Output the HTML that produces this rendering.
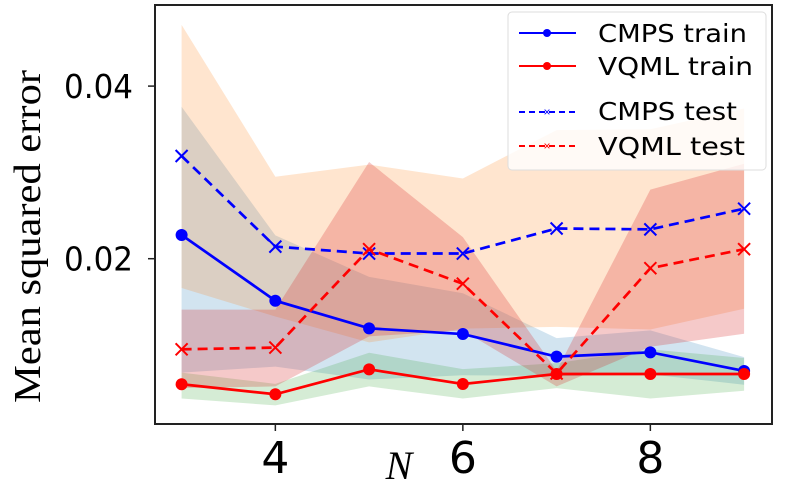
<!DOCTYPE html>
<html><head><meta charset="utf-8"><style>
body{margin:0;background:#fff;}
svg{display:block;}
</style></head><body>
<svg id="chart" width="789" height="490" viewBox="0 0 789 490" xmlns="http://www.w3.org/2000/svg">
<g id="bands"></g><g id="lines"></g>
<rect x="155" y="5" width="617" height="419" fill="none" stroke="#222" stroke-width="2"/>
<g id="axes"></g>
<text transform="translate(40,403) rotate(-90)" font-family="Liberation Serif, serif" font-size="38" textLength="333" lengthAdjust="spacingAndGlyphs">Mean squared error</text>
<text x="399" y="479" text-anchor="middle" font-family="Liberation Serif, serif" font-style="italic" font-size="40">N</text>
<g>
<rect x="508" y="12" width="258" height="158" rx="4" fill="#fff" fill-opacity="0.8" stroke="#ddd"/>
<line x1="519" y1="33" x2="576" y2="33" stroke="#0000ff" stroke-width="2"/><circle cx="547" cy="33" r="4" fill="#0000ff"/>
<text x="598" y="42" font-family="DejaVu Sans, sans-serif" font-size="25" textLength="149" lengthAdjust="spacingAndGlyphs">CMPS train</text>
<line x1="519" y1="66" x2="576" y2="66" stroke="#ff0000" stroke-width="2"/><circle cx="547" cy="66" r="4" fill="#ff0000"/>
<text x="598" y="75" font-family="DejaVu Sans, sans-serif" font-size="25" textLength="155" lengthAdjust="spacingAndGlyphs">VQML train</text>
<line x1="519" y1="112" x2="576" y2="112" stroke="#0000ff" stroke-width="2" stroke-dasharray="6,4"/><text x="547" y="116" text-anchor="middle" fill="#0000ff" font-size="12" font-family="Liberation Sans, sans-serif">×</text>
<text x="598" y="120" font-family="DejaVu Sans, sans-serif" font-size="25" textLength="139" lengthAdjust="spacingAndGlyphs">CMPS test</text>
<line x1="519" y1="146" x2="576" y2="146" stroke="#ff0000" stroke-width="2" stroke-dasharray="6,4"/><text x="547" y="150" text-anchor="middle" fill="#ff0000" font-size="12" font-family="Liberation Sans, sans-serif">×</text>
<text x="598" y="155" font-family="DejaVu Sans, sans-serif" font-size="25" textLength="147" lengthAdjust="spacingAndGlyphs">VQML test</text>
</g>
</svg>
<script>
const nValues=[3,4,5,6,7,8,9];
const cmpsTrain=[0.02275,0.01513,0.01193,0.01127,0.00865,0.00915,0.00699];
const vqmlTrain=[0.00545,0.00429,0.00718,0.00548,0.00664,0.00664,0.00664];
const cmpsTest=[0.0319,0.0214,0.0206,0.0206,0.0235,0.0234,0.0258];
const vqmlTest=[0.0095,0.0097,0.0211,0.0171,0.0067,0.0189,0.0211];
const cmpsTrainLo=[0.0068,0.0075,0.0060,0.0065,0.0064,0.0066,0.0054];
const cmpsTrainHi=[0.0376,0.0227,0.0179,0.0160,0.0108,0.0117,0.0086];
const vqmlTrainLo=[0.0038,0.0030,0.0052,0.0038,0.0050,0.0038,0.0047];
const vqmlTrainHi=[0.0068,0.0055,0.0091,0.0072,0.0079,0.0095,0.0085];
const cmpsTestLo=[0.0166,0.0133,0.0103,0.0119,0.0121,0.0118,0.0142];
const cmpsTestHi=[0.0471,0.0295,0.0309,0.0293,0.0349,0.0350,0.0374];
const vqmlTestLo=[0.0050,0.0052,0.0110,0.0117,0.0052,0.0098,0.0113];
const vqmlTestHi=[0.0141,0.0141,0.0312,0.0225,0.0070,0.0280,0.0310];
const xTicks=[4,6,8];
const yTicks=[0.02,0.04];
const yTickLabels=["0.02","0.04"];

const X=v=>181.6+(v-3)*93.75;
const Y=v=>431.3-v*8630;
const NS="http://www.w3.org/2000/svg";
function mk(tag,parent,attrs){const e=document.createElementNS(NS,tag);for(const k in attrs)e.setAttribute(k,attrs[k]);parent.appendChild(e);return e;}
const bands=document.getElementById('bands'),lines=document.getElementById('lines'),axes=document.getElementById('axes');
function band(lo,hi,color,op,name){
  let pts=nValues.map((n,i)=>X(n)+","+Y(hi[i]));
  pts=pts.concat(nValues.map((n,i)=>X(n)+","+Y(lo[i])).reverse());
  const p=mk('polygon',bands,{points:pts.join(' '),fill:color,'fill-opacity':op});
  
  
}
band(cmpsTrainLo,cmpsTrainHi,'#1f77b4',0.2,'cmps-train-band');
band(vqmlTrainLo,vqmlTrainHi,'#2ca02c',0.2,'vqml-train-band');
band(cmpsTestLo,cmpsTestHi,'#ff7f0e',0.2,'cmps-test-band');
band(vqmlTestLo,vqmlTestHi,'#d62728',0.25,'vqml-test-band');
function series(vals,color,dashed,marker,name){
  const pl=mk('polyline',lines,{points:nValues.map((n,i)=>X(n)+","+Y(vals[i])).join(' '),fill:'none',stroke:color,'stroke-width':2.7,'stroke-dasharray':dashed?'10,6':'none'});
  
  
  nValues.forEach((n,i)=>{
    const x=X(n),y=Y(vals[i]);
    let m;
    if(marker==='o'){m=mk('circle',lines,{cx:x,cy:y,r:6,fill:color});}
    else{m=mk('path',lines,{d:`M${x-6},${y-6}L${x+6},${y+6}M${x-6},${y+6}L${x+6},${y-6}`,stroke:color,'stroke-width':2,fill:'none'});}
    
    
  });
}
series(cmpsTrain,'#0000ff',false,'o','cmps-train');
series(vqmlTrain,'#ff0000',false,'o','vqml-train');
series(cmpsTest,'#0000ff',true,'x','cmps-test');
series(vqmlTest,'#ff0000',true,'x','vqml-test');
xTicks.forEach(t=>{
  const l=mk('line',axes,{x1:X(t),x2:X(t),y1:424,y2:431,stroke:'#222','stroke-width':1.5});
  
  
  const tx=mk('text',axes,{x:X(t),y:473,'text-anchor':'middle','font-family':'DejaVu Sans, sans-serif','font-size':44});
  tx.textContent=String(t);
  
  
});
yTicks.forEach((t,i)=>{
  const l=mk('line',axes,{x1:148,x2:155,y1:Y(t),y2:Y(t),stroke:'#222','stroke-width':1.5});
  
  
  const tx=mk('text',axes,{x:133,y:Y(t)+12,'text-anchor':'end','font-family':'DejaVu Sans, sans-serif','font-size':33,textLength:69,lengthAdjust:'spacingAndGlyphs'});
  tx.textContent=yTickLabels[i];
  
  
});
</script>
</body></html>
